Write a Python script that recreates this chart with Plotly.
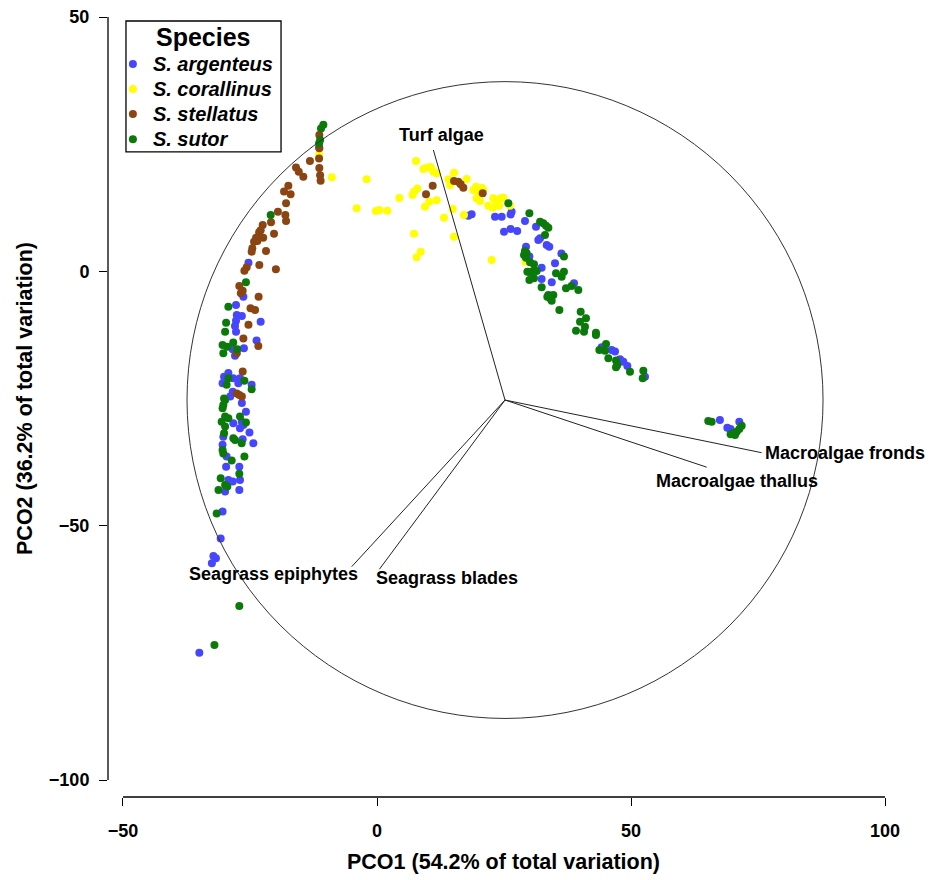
import plotly.graph_objects as go

FONT = "Arial, 'Liberation Sans', sans-serif"

# ---------------- data (PCO1, PCO2) ----------------
arg_x = [-11.4, -25.3, -27.75, -26.3, -27.6, -26.6, -22.9, -27.75, -27.95, -27.75, -23.7, -28.4, -26.2, -27.95,
         -29.26, -30.1, -28.3, -26.97, -30.4, -27.3, -24.67, -28.4, -28.9,
         -26.6, -25.8, -28.28, -26.6, -26.97, -26.3, -25.1, -30.25, -26.44, -24.34, -30.4, -29.6, -29.7, -27.1,
         -26.97, -29.26, -28.4, -29.9, -27.1, -30.4,
         -30.77, -32.2, -31.7, -32.5, -34.97,
         17.98, 18.63, 23.23, 24.54, 26.5, 26.3, 29.13, 31.3, 25.0, 26.3, 27.6, 31.76, 32.1, 33.4, 33.92, 36.3,
         29.33, 30.0, 35.04, 32.4, 34.4, 32.4,
         38.78, 44.22, 46.19, 46.85, 47.83, 48.49, 49.28, 52.75,
         67.5, 68.96, 69.6, 71.32]
arg_y = [24.4, 1.7, -6.6, -4.97, -8.58, -8.8, -9.9, -9.7, -10.74, -11.86, -13.6, -15.3, -15.1, -16.6,
         -20.0, -20.7, -21.0, -21.0, -22.0, -22.0, -22.3, -23.65, -24.6,
         -25.9, -27.6, -29.87, -29.55, -30.86, -30.2, -31.7, -32.5, -33.0, -33.8, -34.1, -36.4, -38.4, -38.4,
         -41.0, -41.0, -41.3, -43.3, -43.0, -47.2,
         -52.5, -55.95, -56.4, -57.4, -74.96,
         10.95, 11.21, 10.75, 10.75, 11.74, 11.2, 9.9, 8.79, 7.8, 8.33, 7.94, 6.17, 6.5, 5.18, 4.86, 3.5,
         4.86, 2.9, 1.58, 0.73, -2.16, -1.5,
         -2.35, -14.93, -15.46, -15.78, -17.29, -17.75, -18.6, -20.7,
         -29.22, -30.73, -30.99, -29.55]

cor_x = [-8.9, -11.4,
         7.68, 9.12, 9.9, 10.57, 11.1, 11.75, -2.03, 15.16, 14.05, 14.4, 17.65, 7.94, 7.29, 7.0, 4.4, 11.75,
         10.3, 9.45, -4.0, -0.2, 0.46, 2.04, 14.9, 13.19, 17.13, 7.29, 15.16, 8.6, 7.8,
         19.49, 20.6, 18.96, 19.95, 20.93, 19.6, 20.27, 21.9, 22.77, 22.9, 23.55, 24.34, 24.87, 24.08,
         22.57, 26.18, 29.2]
cor_y = [18.5, 22.9,
         21.7, 20.1, 20.4, 20.5, 19.6, 19.3, 18.1, 19.4, 18.1, 17.0, 18.16, 16.3, 15.67, 15.0, 14.4, 14.0,
         13.7, 12.7, 12.4, 11.86, 12.06, 11.93, 12.26, 10.55, 11.1, 7.4, 6.8, 3.87, 2.76,
         16.65, 16.45, 16.0, 15.67, 16.0, 14.36, 13.83, 12.9, 12.52, 14.36, 13.57, 14.36, 14.49, 12.9,
         2.23, 12.9, 1.9]

ste_x = [-11.35, -11.35, -11.4, -11.35, -11.2, -11.1, -13.2, -15.94, -15.4, -14.5, -17.45, -18.3, -17.0,
         -17.9, -19.5, -18.04, -17.9, -20.86, -22.5, -22.9, -23.2, -20.27, -23.8, -22.4, -23.55, -24.2,
         -24.54, -24.67, -21.85,
         -23.16, -19.9, -26.1, -25.65, -27.1, -26.44, -26.8, -23.3, -24.9, -24.0, -25.3, -26.3, -23.36,
         -27.6, -26.44, -27.6, -27.1, -26.6,
         10.96, 9.65, 15.16, 16.0, 16.47, 17.0, 20.8]
ste_y = [26.8, 24.2, 22.2, 20.3, 18.9, 17.8, 21.7, 20.4, 19.6, 18.6, 16.85, 15.7, 15.15,
         13.4, 11.74, 11.08, 9.9, 9.64, 9.1, 8.1, 7.67, 7.4, 6.6, 6.6, 5.97, 5.84,
         4.53, 3.87, 4.0,
         1.25, 0.4, 0.14, 0.8, -2.9, -3.8, -4.3, -4.97, -7.27, -7.6, -10.5, -13.2, -14.67,
         -16.1, -19.7, -24.0, -24.3, -24.6,
         16.85, 15.14, 17.76, 17.6, 17.1, 16.45, 15.34]

sut_x = [-10.56, -11.02, -11.2, -11.4, -20.93,
         -25.8, -29.26, -29.7, -29.9, -30.4, -29.46, -28.3, -27.5, -30.25, -29.26, -26.1, -29.6, -24.67, -30.1,
         -29.9, -30.25, -30.4, -29.9, -30.58, -29.26, -26.97, -25.8, -29.9, -30.1, -28.28, -27.95, -26.64,
         -30.4, -30.25, -28.6, -26.1, -27.1, -30.77, -29.9, -29.46, -31.2, -31.56,
         -27.1, -32.0,
         25.85, 29.99, 32.1, 32.74, 33.27, 33.73, 33.07, 29.13, 29.46, 28.94, 29.33, 30.12, 30.9, 29.6,
         30.12, 30.77, 31.43, 30.0, 30.9, 36.8,
         35.24, 36.35, 36.8, 37.2, 38.3, 39.63, 32.41, 33.73, 34.05, 34.71, 33.53, 34.38, 35.9, 40.09,
         41.14, 39.96, 39.17, 40.75, 40.94, 43.1, 43.1, 45.08, 43.77, 44.88, 45.54, 47.05, 47.31, 49.8,
         52.43, 52.3, 47.05,
         65.2, 65.88, 71.78, 71.32, 70.8, 70.14, 69.6, 70.47]
sut_y = [28.8, 28.1, 25.8, 25.2, 11.08,
         -2.16, -6.94, -10.1, -11.86, -14.5, -14.8, -14.0, -15.3, -16.1, -21.0, -21.5, -22.3, -23.2, -25.0,
         -25.3, -26.27, -26.9, -28.56, -29.55, -28.9, -28.56, -29.7, -30.5, -31.84, -32.8, -33.15, -33.8,
         -35.1, -35.8, -37.2, -36.4, -39.8, -40.7, -42.0, -42.3, -43.0, -47.6,
         -65.8, -73.45,
         13.37, 11.41, 9.77, 9.44, 8.98, 8.59, 7.15, 4.0, 3.55, 3.22, 2.69, 1.78, 1.38, -0.06,
         -0.19, 0.07, 0.07, -1.7, -1.37, 2.9,
         -0.39, -1.04, -0.06, -3.33, -2.87, -3.66, -3.14, -4.64, -5.3, -4.64, -4.97, -5.76, -7.59, -7.92,
         -9.23, -9.9, -11.66, -11.85, -10.87, -12.05, -12.5, -14.28, -15.46, -15.59, -17.1, -17.55, -18.4, -19.72,
         -19.52, -21.03, -18.86,
         -29.4, -29.55, -30.33, -30.99, -31.51, -31.84, -32.04, -32.17]

species = ["S. argenteus", "S. corallinus", "S. stellatus", "S. sutor"]
colors = ["#4646FF", "#FFFF00", "#8B4513", "#0B7A0B"]
xs = [arg_x, cor_x, ste_x, sut_x]
ys = [arg_y, cor_y, ste_y, sut_y]

# vectors (biplot loadings) from origin
vec_names = ["Turf algae", "Macroalgae fronds", "Macroalgae thallus", "Seagrass epiphytes", "Seagrass blades"]
vec_x = [11.1, 75.7, 64.9, -4.98, 0.47]
vec_y = [23.85, -35.65, -38.5, -58.06, -58.57]
vec_origin = (25.2, -25.3)
circle_radius = 62.6

x_ticks = [-50, 0, 50, 100]
y_ticks = [-100, -50, 0, 50]

# label placement (x, y, xanchor)
label_pos = [(12.6, 26.8, "center"), (75.9, -35.7, "left"), (70.9, -41.3, "center"),
             (-20.3, -59.5, "center"), (13.7, -60.3, "center")]

fig = go.Figure()
for name, c, x, y in zip(species, colors, xs, ys):
    fig.add_trace(go.Scatter(x=x, y=y, mode="markers",
                             name='<span style="font-size:20px">' + name + '</span>',
                             marker=dict(color=c, size=8, line=dict(width=0))))

shapes = []
cx, cy = vec_origin
shapes.append(dict(type="circle", xref="x", yref="y", x0=cx - circle_radius, x1=cx + circle_radius,
                   y0=cy - circle_radius, y1=cy + circle_radius, line=dict(color="#333333", width=1)))
for vx, vy in zip(vec_x, vec_y):
    shapes.append(dict(type="line", xref="x", yref="y", x0=cx, y0=cy, x1=vx, y1=vy,
                       line=dict(color="#222222", width=1)))
# detached axis lines
shapes.append(dict(type="line", xref="paper", yref="y", x0=0, x1=0, y0=y_ticks[0], y1=y_ticks[-1],
                   line=dict(color="black", width=1.3)))
shapes.append(dict(type="line", xref="x", yref="paper", x0=x_ticks[0], x1=x_ticks[-1], y0=0, y1=0,
                   line=dict(color="black", width=1.3)))
# legend frame
shapes.append(dict(type="rect", xref="paper", yref="paper", x0=0.022, x1=0.2118, y0=0.8196, y1=0.986,
                   line=dict(color="black", width=1.3), fillcolor="rgba(0,0,0,0)", layer="above"))

annotations = []
for name, (lx, ly, anc) in zip(vec_names, label_pos):
    annotations.append(dict(x=lx, y=ly, xref="x", yref="y", text=name, showarrow=False,
                            xanchor=anc, yanchor="middle",
                            font=dict(family=FONT, size=18, color="black", weight="bold")))
annotations.append(dict(x=0.4847, y=-0.0826, xref="paper", yref="paper",
                        text="PCO1 (54.2% of total variation)", showarrow=False,
                        xanchor="center", yanchor="middle",
                        font=dict(family=FONT, size=21.5, color="black", weight="bold")))
annotations.append(dict(x=-0.1016, y=0.507, xref="paper", yref="paper",
                        text="PCO2 (36.2% of total variation)", showarrow=False, textangle=-90,
                        xanchor="center", yanchor="middle",
                        font=dict(family=FONT, size=21.5, color="black", weight="bold")))
annotations.append(dict(x=0.1175, y=0.9662, xref="paper", yref="paper", text="Species", showarrow=False,
                        xanchor="center", yanchor="middle",
                        font=dict(family=FONT, size=25, color="black", weight="bold")))

axis_common = dict(showgrid=False, zeroline=False, showline=False, ticks="outside", ticklen=8,
                   tickwidth=1.3, tickcolor="black", automargin=False, ticklabeloverflow="allow",
                   tickfont=dict(family=FONT, size=18, color="black", weight="bold"))

# the page body adds an 8px offset, so the figure is 8px smaller than the window
fig.update_layout(
    width=931, height=872,
    margin=dict(l=100, r=14, t=2, b=83),
    plot_bgcolor="white", paper_bgcolor="white",
    xaxis=dict(range=[-52.95, 107.87], tickvals=x_ticks, ticklabelstandoff=9, **axis_common),
    yaxis=dict(range=[-103.34, 51.38], tickvals=y_ticks, ticklabelstandoff=6, **axis_common),
    shapes=shapes, annotations=annotations,
    legend=dict(x=0.006, y=0.9538, xanchor="left", yanchor="top",
                borderwidth=0, bgcolor="rgba(0,0,0,0)",
                font=dict(family=FONT, size=17, color="black", weight="bold", style="italic"),
                itemsizing="trace", tracegroupgap=0),
    showlegend=True,
)

fig.write_html("out.html")
